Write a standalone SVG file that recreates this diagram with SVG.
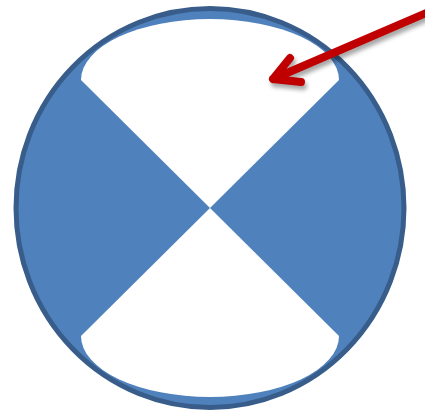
<svg xmlns="http://www.w3.org/2000/svg" width="425" height="411" viewBox="0 0 425 411">
  <defs>
    <filter id="shadow" x="-20%" y="-20%" width="140%" height="160%">
      <feGaussianBlur stdDeviation="2"/>
    </filter>
  </defs>
  <style>
    .disc { fill: #4F81BD; stroke: #385D8A; stroke-width: 5; }
    .cut { fill: #FFFFFF; stroke: none; }
    .arrow { fill: none; stroke: #C00000; stroke-width: 8; stroke-linecap: round; stroke-linejoin: round; }
    .arrow-shadow { fill: none; stroke: #000000; stroke-opacity: 0.35; stroke-width: 8; stroke-linecap: round; stroke-linejoin: round; }
  </style>
  <rect width="425" height="411" fill="#FFFFFF"/>
  <g id="disc">
    <ellipse class="disc" cx="210" cy="208" rx="194" ry="199.5"/>
    <path class="cut" d="M210,208 L81,80 A129,61 0 0 1 339,80 Z"/>
    <path class="cut" d="M210,208 L81,336 A129,61 0 0 0 339,336 Z"/>
  </g>
  <g id="connectors">
    <g transform="translate(2,4)" filter="url(#shadow)">
      <path class="arrow-shadow" d="M432,10.5 L273,79 M290,58 L273,79 L301,82"/>
    </g>
    <path class="arrow" d="M432,10.5 L273,79 M290,58 L273,79 L301,82"/>
  </g>
</svg>
